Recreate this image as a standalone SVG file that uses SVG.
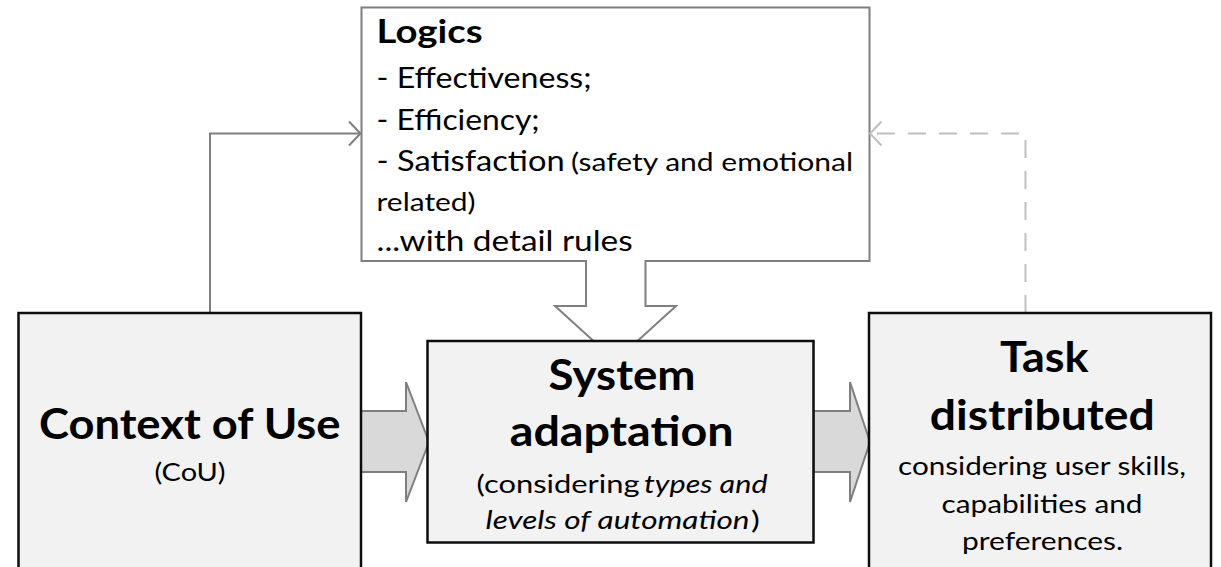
<svg xmlns="http://www.w3.org/2000/svg" width="1221" height="567" viewBox="0 0 1221 567">
<style>
.box{fill:#f2f2f2;stroke:#0d0d0d;stroke-width:2.5}
.logic{fill:#ffffff;stroke:#7f7f7f;stroke-width:2}
.blk{fill:#d9d9d9;stroke:#7f7f7f;stroke-width:2;stroke-linejoin:miter}
.down{fill:#ffffff;stroke:#7f7f7f;stroke-width:2}
.line{fill:none;stroke:#7f7f7f;stroke-width:2}
.dash{fill:none;stroke:#bfbfbf;stroke-width:2;stroke-dasharray:18 13}
text{font-family:Lato,"Liberation Sans",sans-serif;fill:#000}
.h{font-weight:bold;font-size:42px}
.t{font-weight:bold;font-size:32px}
.l{font-size:29px}
.s{font-size:25.5px}
.i{font-style:italic}
</style>
<rect width="1221" height="567" fill="#ffffff"/>
<g id="logics">
<rect class="logic" x="361.5" y="7.5" width="508" height="253.5"/>
<text class="t" x="376.6" y="42.5" textLength="106" lengthAdjust="spacingAndGlyphs">Logics</text>
<text class="l" x="376.6" y="87.5" textLength="215" lengthAdjust="spacingAndGlyphs">- Effectiveness;</text>
<text class="l" x="376.6" y="129.5" textLength="163" lengthAdjust="spacingAndGlyphs">- Efficiency;</text>
<text y="170.5"><tspan class="l" x="376.6" textLength="188" lengthAdjust="spacingAndGlyphs">- Satisfaction</tspan><tspan class="s" x="571" textLength="282" lengthAdjust="spacingAndGlyphs">(safety and emotional</tspan></text>
<text class="s" x="376.6" y="210.7" textLength="99" lengthAdjust="spacingAndGlyphs">related)</text>
<text class="l" x="376.6" y="250.7" textLength="256" lengthAdjust="spacingAndGlyphs">...with detail rules</text>
</g>
<g id="connectors">
<path class="down" d="M586,260 V306 H555 L615.5,361 L676,306 H645.5 V260"/>
<path class="line" d="M210,313 V133.5 H360"/>
<path class="line" d="M349,121.5 L360.5,133.5 L349,145.5"/>
<path class="dash" d="M1025.5,313 V133.5 H871"/>
<path class="dash" style="stroke-dasharray:none" d="M881.5,121.5 L870,133.5 L881.5,145.5"/>
<path class="blk" d="M361,411 H406 V382 L429,442 L406,502 V472 H361 Z"/>
<path class="blk" d="M813.5,411 H850 V382 L870,442 L850,502 V472 H813.5 Z"/>
</g>
<g id="context-of-use">
<rect class="box" x="18.5" y="313" width="342.5" height="270"/>
<text class="h" x="38.9" y="438.5" textLength="301.6" lengthAdjust="spacingAndGlyphs">Context of Use</text>
<text class="s" x="154.5" y="481" textLength="71" lengthAdjust="spacingAndGlyphs">(CoU)</text>
</g>
<g id="system-adaptation">
<rect class="box" x="427.5" y="341" width="386" height="201.5"/>
<text class="h" x="548.6" y="389.5" textLength="147" lengthAdjust="spacingAndGlyphs">System</text>
<text class="h" x="509.7" y="446" textLength="224" lengthAdjust="spacingAndGlyphs">adaptation</text>
<text class="s" y="493"><tspan x="476.6" textLength="163" lengthAdjust="spacingAndGlyphs">(considering</tspan><tspan class="i" x="644" textLength="123.6" lengthAdjust="spacingAndGlyphs">types and</tspan></text>
<text class="s" y="529"><tspan class="i" x="485.6" textLength="264" lengthAdjust="spacingAndGlyphs">levels of automation</tspan><tspan x="751" textLength="8.8" lengthAdjust="spacingAndGlyphs">)</tspan></text>
</g>
<g id="task-distributed">
<rect class="box" x="869" y="313" width="342" height="270"/>
<text class="h" x="1000" y="371.5" textLength="88.6" lengthAdjust="spacingAndGlyphs">Task</text>
<text class="h" x="929.8" y="429.5" textLength="225" lengthAdjust="spacingAndGlyphs">distributed</text>
<text class="s" x="898" y="475" textLength="288" lengthAdjust="spacingAndGlyphs">considering user skills,</text>
<text class="s" x="941.5" y="513.3" textLength="201" lengthAdjust="spacingAndGlyphs">capabilities and</text>
<text class="s" x="962" y="550" textLength="161" lengthAdjust="spacingAndGlyphs">preferences.</text>
</g>
</svg>
